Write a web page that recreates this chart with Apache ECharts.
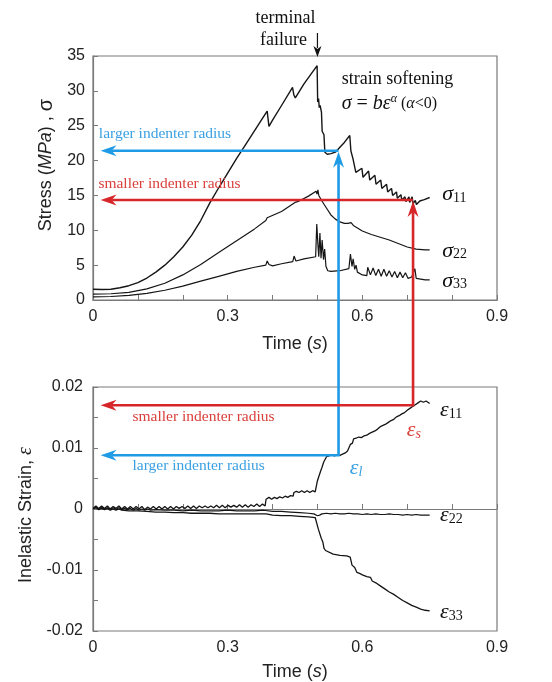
<!DOCTYPE html>
<html>
<head>
<meta charset="utf-8">
<script src="https://cdn.jsdelivr.net/npm/echarts@6/dist/echarts.min.js"></script>
<style>
html,body{margin:0;padding:0;background:#fff;}
#c{width:552px;height:682px;}
</style>
</head>
<body>
<div id="c"></div>
<script>
// ---------- data (time in s) ----------
const timeTicks = [0, 0.3, 0.6, 0.9];
const stressTicks = [0, 5, 10, 15, 20, 25, 30, 35];
const strainTicks = [-0.02, -0.01, 0, 0.01, 0.02];

const sigma11 = [
[0,1.55],[0.02,1.5],[0.04,1.55],[0.06,1.75],[0.08,2.05],[0.10,2.5],[0.12,3.15],[0.14,4.0],[0.16,5.0],[0.18,6.2],
[0.20,7.6],[0.22,9.3],[0.24,11.4],[0.26,13.9],[0.28,16.1],[0.30,18.2],[0.32,20.3],[0.34,22.3],[0.36,24.3],[0.375,25.8],
[0.388,27.1],[0.392,24.9],[0.40,25.8],[0.42,27.9],[0.4445,30.5],[0.4475,29.4],[0.4507,29.0],[0.47,31.0],[0.49,32.8],[0.4993,33.6],
[0.5005,28.4],[0.5025,28.9],[0.504,27.6],[0.506,27.9],[0.509,26.9],[0.5105,24.2],[0.513,24.0],[0.5145,23.7],[0.5165,21.2],[0.522,20.9],
[0.53,21.0],[0.54,21.2],[0.55,21.9],[0.56,22.6],[0.572,23.6],[0.5745,21.4],[0.577,21.6],[0.579,20.3],[0.582,20.5],[0.5855,18.3],
[0.599,18.9],[0.6015,17.6],[0.614,18.5],[0.6165,17.2],[0.628,17.9],[0.6305,16.6],[0.641,17.2],[0.6435,16.0],[0.654,16.6],[0.6565,15.5],
[0.665,16.0],[0.6675,15.0],[0.676,15.5],[0.678,14.6],[0.686,15.1],[0.688,14.3],[0.695,14.8],[0.697,14.1],[0.704,14.8],[0.7055,14.0],
[0.711,14.8],[0.713,13.8],[0.718,14.3],[0.7205,13.7],[0.728,14.2],[0.738,14.4],[0.75,14.7]
];
const sigma22 = [
[0,0.85],[0.04,0.9],[0.08,1.1],[0.12,1.6],[0.16,2.4],[0.20,3.6],[0.24,5.1],[0.28,6.8],[0.32,8.5],[0.36,10.2],
[0.385,11.4],[0.388,11.8],[0.391,11.6],[0.42,12.7],[0.45,14.0],[0.453,14.2],[0.456,14.1],[0.48,14.9],[0.497,15.6],[0.499,15.2],
[0.501,15.8],[0.503,15.0],[0.51,14.2],[0.52,13.2],[0.53,12.2],[0.54,11.6],[0.55,11.2],[0.56,11.0],[0.568,11.0],[0.575,11.1],
[0.58,10.7],[0.59,10.3],[0.60,9.9],[0.62,9.4],[0.64,9.0],[0.66,8.6],[0.68,8.1],[0.70,7.6],[0.72,7.3],[0.74,7.2],[0.75,7.2]
];
const sigma33 = [
[0,0.45],[0.04,0.5],[0.08,0.65],[0.12,0.95],[0.16,1.4],[0.20,2.0],[0.24,2.7],[0.28,3.4],[0.32,4.1],[0.36,4.7],
[0.385,5.0],[0.388,5.6],[0.392,5.1],[0.40,4.9],[0.42,5.2],[0.445,5.5],[0.448,6.3],[0.452,5.6],[0.47,5.9],[0.496,6.2],
[0.4985,10.9],[0.501,8.0],[0.503,6.2],[0.5055,9.6],[0.508,6.0],[0.5105,8.6],[0.5135,5.8],[0.516,7.3],[0.519,4.8],[0.523,4.2],
[0.53,4.1],[0.55,4.2],[0.57,4.5],[0.5735,6.6],[0.577,4.8],[0.5795,5.9],[0.583,4.4],[0.586,5.0],[0.589,4.0],[0.60,3.6],
[0.61,3.5],[0.612,4.7],[0.618,3.6],[0.624,4.6],[0.63,3.5],[0.636,4.4],[0.642,3.4],[0.648,4.4],[0.654,3.4],[0.66,4.2],
[0.666,3.3],[0.672,4.1],[0.678,3.2],[0.684,4.0],[0.69,3.2],[0.696,3.9],[0.702,3.1],[0.71,3.3],[0.717,4.5],[0.72,3.1],
[0.73,3.0],[0.74,2.9],[0.75,2.9]
];

const eps11 = [
[0,0.0001],[0.0064,0.0005],[0.0128,0.0001],[0.0192,0.0005],[0.0256,0.0001],[0.032,0.0005],[0.0384,0.0000],[0.0448,0.0004],[0.0512,0.0001],[0.0576,0.0005],
[0.064,0.0000],[0.0704,0.0004],[0.0768,0.0000],[0.0832,0.0004],[0.0896,0.0000],[0.096,0.0004],[0.1024,0.0000],[0.1088,0.0004],[0.1152,-0.0001],[0.1216,0.0003],
[0.128,0.0000],[0.1344,0.0004],[0.1408,0.0000],[0.1472,0.0004],[0.1536,0.0000],[0.16,0.0004],[0.1664,0.0000],[0.1728,0.0004],[0.1792,0.0000],[0.1856,0.0004],
[0.192,0.0001],[0.1984,0.0004],[0.2048,0.0001],[0.2112,0.0005],[0.2176,0.0001],[0.224,0.0005],[0.2304,0.0001],[0.2368,0.0005],[0.2432,0.0002],[0.2496,0.0005],
[0.256,0.0002],[0.2624,0.0005],[0.2688,0.0002],[0.2752,0.0006],[0.2816,0.0002],[0.288,0.0006],[0.2944,0.0002],[0.3008,0.0006],[0.3072,0.0003],[0.3136,0.0006],
[0.32,0.0003],[0.3264,0.0007],[0.3328,0.0003],[0.3392,0.0007],[0.3456,0.0003],[0.352,0.0007],[0.3584,0.0004],[0.3648,0.0008],[0.3712,0.0004],[0.3776,0.0008],
[0.3835,0.0005],[0.3855,0.0016],[0.392,0.0019],[0.398,0.0016],[0.404,0.0019],[0.41,0.0017],[0.416,0.0020],[0.422,0.0018],[0.428,0.0021],[0.434,0.0019],
[0.44,0.0022],[0.446,0.0021],[0.4475,0.0027],[0.453,0.0029],[0.459,0.0027],[0.465,0.0030],[0.471,0.0027],[0.477,0.0030],[0.483,0.0027],[0.489,0.0030],
[0.495,0.0028],[0.4985,0.0030],[0.4995,0.0045],[0.5025,0.0052],[0.505,0.0051],[0.507,0.0062],[0.51,0.0068],[0.5125,0.0069],[0.514,0.0077],[0.518,0.0080],
[0.5205,0.0086],[0.526,0.0087],[0.532,0.0089],[0.538,0.0087],[0.544,0.0089],[0.55,0.0088],[0.556,0.0090],[0.562,0.0092],[0.567,0.0095],[0.571,0.0097],
[0.5735,0.0106],[0.578,0.0108],[0.5805,0.0115],[0.586,0.0116],[0.592,0.0118],[0.598,0.0117],[0.604,0.0120],[0.61,0.0121],[0.616,0.0124],[0.622,0.0126],
[0.628,0.0128],[0.634,0.0131],[0.64,0.0135],[0.646,0.0137],[0.652,0.0139],[0.658,0.0142],[0.664,0.0145],[0.67,0.0147],[0.676,0.0151],[0.682,0.0153],
[0.688,0.0156],[0.694,0.0158],[0.70,0.0162],[0.706,0.0165],[0.712,0.0168],[0.718,0.0171],[0.724,0.0174],[0.73,0.0177],[0.736,0.0175],[0.742,0.0177],[0.75,0.0173]
];
const eps22 = [
[0,0.0001],[0.0064,0.0003],[0.0128,0.0000],[0.0192,0.0003],[0.0256,0.0000],[0.032,0.0002],[0.0384,-0.0001],[0.0448,0.0002],[0.0512,-0.0001],[0.0576,0.0002],
[0.064,-0.0001],[0.0704,0.0001],[0.0768,-0.0001],[0.0832,0.0001],[0.0896,-0.0002],[0.096,0.0001],[0.1024,-0.0002],[0.1088,0.0000],[0.1152,-0.0002],[0.1216,0.0000],
[0.128,-0.0002],[0.14,-0.0001],[0.16,-0.0002],[0.18,-0.0002],[0.2,-0.0003],[0.22,-0.0002],[0.24,-0.0003],[0.26,-0.0003],[0.28,-0.0003],[0.30,-0.0002],
[0.32,-0.0003],[0.34,-0.0003],[0.36,-0.0003],[0.38,-0.0002],[0.40,-0.0004],[0.42,-0.0004],[0.44,-0.0005],[0.46,-0.0006],[0.48,-0.0007],[0.492,-0.0008],
[0.50,-0.0011],[0.505,-0.0010],[0.51,-0.0008],[0.52,-0.0007],[0.53,-0.0008],[0.54,-0.0007],[0.55,-0.0008],[0.56,-0.0008],[0.57,-0.0007],[0.58,-0.0008],
[0.59,-0.0008],[0.60,-0.0009],[0.61,-0.0008],[0.62,-0.0009],[0.63,-0.0008],[0.64,-0.0009],[0.65,-0.0009],[0.66,-0.0008],[0.67,-0.0009],[0.68,-0.0009],
[0.69,-0.0010],[0.70,-0.0009],[0.71,-0.0010],[0.72,-0.0009],[0.73,-0.0010],[0.74,-0.0010],[0.75,-0.0010]
];
const eps33 = [
[0,0.0000],[0.0064,0.0002],[0.0128,-0.0001],[0.0192,0.0001],[0.0256,-0.0001],[0.032,0.0001],[0.0384,-0.0002],[0.0448,0.0000],[0.0512,-0.0002],[0.0576,0.0000],
[0.064,-0.0002],[0.08,-0.0003],[0.10,-0.0003],[0.12,-0.0004],[0.14,-0.0005],[0.16,-0.0005],[0.18,-0.0006],[0.20,-0.0006],[0.22,-0.0007],[0.24,-0.0007],
[0.26,-0.0007],[0.28,-0.0008],[0.30,-0.0008],[0.32,-0.0008],[0.34,-0.0008],[0.36,-0.0008],[0.38,-0.0008],[0.386,-0.0008],[0.389,-0.0010],[0.40,-0.0010],
[0.42,-0.0011],[0.44,-0.0011],[0.46,-0.0012],[0.48,-0.0013],[0.495,-0.0014],[0.499,-0.0016],[0.502,-0.0033],[0.506,-0.0036],[0.5085,-0.0048],[0.512,-0.0054],
[0.5145,-0.0064],[0.518,-0.0068],[0.522,-0.0071],[0.535,-0.0074],[0.55,-0.0076],[0.565,-0.0077],[0.573,-0.0079],[0.577,-0.0092],[0.583,-0.0096],[0.588,-0.0104],
[0.595,-0.0106],[0.60,-0.0108],[0.61,-0.0111],[0.618,-0.0112],[0.622,-0.0118],[0.63,-0.0121],[0.64,-0.0126],[0.65,-0.0131],[0.66,-0.0136],[0.67,-0.0140],
[0.68,-0.0145],[0.69,-0.0150],[0.70,-0.0154],[0.71,-0.0158],[0.72,-0.0161],[0.73,-0.0164],[0.74,-0.0166],[0.75,-0.0167]
];

// annotation anchors (data space)
const blueArrow = { t: 0.547, stress: 21.4, strain: 0.0088 };
const redArrow  = { t: 0.713, stress: 14.35, strain: 0.0170 };
const arrowTipTime = 0.017;
const failureTime = 0.5;

// ---------- chart ----------
const BLUE = '#1f9be6', RED = '#d7262a', BLUE_T = '#3aa0e2', RED_T = '#d9403c';
const SANS = '"Liberation Sans", Arial, sans-serif';
const SERIF = '"Liberation Serif", "Times New Roman", serif';
const AX = '#7a7a7a';

function fmt(v, d) { return Math.abs(v) < 1e-12 ? '0' : v.toFixed(d); }

function xAx(gi) {
  return {
    gridIndex: gi, type: 'value', min: timeTicks[0], max: timeTicks[timeTicks.length - 1], interval: 0.3,
    axisLine: { show: true, lineStyle: { color: AX, width: 1.2 } },
    axisTick: { show: true, inside: true, length: 5, lineStyle: { color: AX } },
    minorTick: { show: true, splitNumber: 3, length: 5, lineStyle: { color: AX } },
    axisLabel: { formatter: v => fmt(v, 1), fontSize: 16, fontFamily: SANS, color: '#222', margin: 9 },
    splitLine: { show: false },
    name: '{n|Time (}{i|s}{n|)}', nameLocation: 'middle', nameGap: gi === 0 ? 35 : 32,
    nameTextStyle: { rich: {
      n: { fontSize: 18, fontFamily: SANS, color: '#222' },
      i: { fontSize: 18, fontFamily: SANS, fontStyle: 'italic', color: '#222' } } }
  };
}

const option = {
  animation: false,
  backgroundColor: '#fff',
  grid: [
    { left: 93, top: 56, width: 404, height: 244, show: true, borderColor: AX, borderWidth: 1.2, backgroundColor: '#fff' },
    { left: 93, top: 387, width: 404, height: 246, show: true, borderColor: AX, borderWidth: 1.2, backgroundColor: '#fff' }
  ],
  xAxis: [xAx(0), xAx(1)],
  yAxis: [
    {
      gridIndex: 0, type: 'value', min: stressTicks[0], max: stressTicks[stressTicks.length - 1], interval: 5,
      axisLine: { show: true, lineStyle: { color: AX, width: 1.2 } },
      axisTick: { show: true, inside: true, length: 5, lineStyle: { color: AX } },
      axisLabel: { fontSize: 16, fontFamily: SANS, color: '#222', margin: 8 },
      splitLine: { show: false },
      name: '{n|Stress (}{i|MPa}{n|) , }{g|σ}', nameLocation: 'middle', nameGap: 36,
      nameTextStyle: { padding: [0, 0, 0, 26], rich: {
        n: { fontSize: 18, fontFamily: SANS, color: '#222' },
        i: { fontSize: 18, fontFamily: SANS, fontStyle: 'italic', color: '#222' },
        g: { fontSize: 20, fontFamily: SANS, color: '#222' } } }
    },
    {
      gridIndex: 1, type: 'value', min: strainTicks[0], max: strainTicks[strainTicks.length - 1], interval: 0.01,
      axisLine: { show: true, lineStyle: { color: AX, width: 1.2 } },
      axisTick: { show: true, inside: true, length: 5, lineStyle: { color: AX } },
      minorTick: { show: true, splitNumber: 2, length: 5, lineStyle: { color: AX } },
      axisLabel: { formatter: v => fmt(v, 2), fontSize: 16, fontFamily: SANS, color: '#222', margin: 10 },
      splitLine: { show: false },
      name: '{n|Inelastic Strain, }{e|ε}', nameLocation: 'middle', nameGap: 57,
      nameTextStyle: { padding: [0, 12, 0, 0], rich: {
        n: { fontSize: 18, fontFamily: SANS, color: '#222' },
        e: { fontSize: 20, fontFamily: SERIF, fontStyle: 'italic', color: '#222' } } }
    }
  ],
  series: [
    mk(sigma11, 0, 1.4), mk(sigma22, 0, 1.2), mk(sigma33, 0, 1.2),
    mk(eps11, 1, 1.3), mk(eps22, 1, 1.2), mk(eps33, 1, 1.3)
  ]
};
function mk(data, gi, w) {
  return { type: 'line', xAxisIndex: gi, yAxisIndex: gi, data: data, showSymbol: false, symbol: 'none',
    lineStyle: { color: '#151515', width: w }, z: 3, silent: true };
}

const chart = echarts.init(document.getElementById('c'), null, { renderer: 'canvas' });
chart.setOption(option);

const P0 = v => chart.convertToPixel({ gridIndex: 0 }, v);
const P1 = v => chart.convertToPixel({ gridIndex: 1 }, v);

const HL = 16, HW = 5.5, HN = 11, LW = 2.6;
function headLeft(p, c) {
  return { type: 'polygon', z: 100, shape: { points: [[p[0], p[1]], [p[0] + HL, p[1] - HW], [p[0] + HN, p[1]], [p[0] + HL, p[1] + HW]] }, style: { fill: c } };
}
function headUp(p, c) {
  return { type: 'polygon', z: 100, shape: { points: [[p[0], p[1]], [p[0] - HW, p[1] + HL], [p[0], p[1] + HN], [p[0] + HW, p[1] + HL]] }, style: { fill: c } };
}
function pline(pts, c, w) {
  return { type: 'polyline', z: 99, shape: { points: pts }, style: { stroke: c, lineWidth: w || LW, fill: null, lineJoin: 'miter' } };
}
function arrowSet(a, c) {
  const top = P0([a.t, a.stress]);
  const topTip = P0([arrowTipTime, a.stress]);
  const bot = P1([a.t, a.strain]);
  const botTip = P1([arrowTipTime, a.strain]);
  return [
    pline([[topTip[0] + HN, top[1]], [top[0], top[1]]], c),
    headLeft(topTip, c),
    pline([[botTip[0] + HN, bot[1]], [bot[0], bot[1]], [bot[0], top[1] + HN]], c),
    headLeft(botTip, c),
    headUp([top[0], top[1] + 1], c)
  ];
}
function txt(p, text, style) {
  return { type: 'text', z: 101, x: p[0], y: p[1], style: Object.assign({ text: text, verticalAlign: 'middle', align: 'left' }, style) };
}
const serif = (sz, c) => ({ font: sz + 'px ' + SERIF, fill: c });

function sym(p, main, sub, c, subItalic) {
  return { type: 'text', z: 101, x: p[0], y: p[1], style: {
    text: '{m|' + main + '}{s|' + sub + '}', verticalAlign: 'middle', align: 'left', fill: c,
    rich: {
      m: { fontFamily: SERIF, fontStyle: 'italic', fontSize: 22, fill: c, lineHeight: 24, verticalAlign: 'bottom' },
      s: { fontFamily: SERIF, fontStyle: subItalic ? 'italic' : 'normal', fontSize: 14, fill: c, lineHeight: 14, verticalAlign: 'bottom' }
    } } };
}

const fx = P0([failureTime, 35]);
const eq = P0([0.554, 28.1]);
const graphics = [].concat(
  arrowSet(blueArrow, BLUE),
  arrowSet(redArrow, RED),
  [
    txt(P0([0.013, 23.8]), 'larger indenter radius', serif(15.5, BLUE_T)),
    txt(P0([0.012, 16.6]), 'smaller indenter radius', serif(15.5, RED_T)),
    txt(P1([0.088, 0.0151]), 'smaller indenter radius', serif(15.5, RED_T)),
    txt(P1([0.088, 0.0070]), 'larger indenter radius', serif(15.5, BLUE_T)),
    txt(P0([0.554, 31.7]), 'strain softening', serif(18, '#111')),
    { type: 'text', z: 101, x: eq[0], y: eq[1],
      style: { text: '{i|σ}{m| = }{i|bε}{p|α}{r| (}{q|α}{r|<0)}', verticalAlign: 'middle', align: 'left', fill: '#111',
        rich: {
          m: { fontFamily: SERIF, fontSize: 20, fill: '#111', lineHeight: 22, verticalAlign: 'middle' },
          i: { fontFamily: SERIF, fontSize: 20, fontStyle: 'italic', fill: '#111', lineHeight: 22, verticalAlign: 'middle' },
          p: { fontFamily: SERIF, fontSize: 12, fontStyle: 'italic', fill: '#111', lineHeight: 12, verticalAlign: 'top' },
          r: { fontFamily: SERIF, fontSize: 16, fill: '#111', lineHeight: 20, verticalAlign: 'middle' },
          q: { fontFamily: SERIF, fontSize: 16, fontStyle: 'italic', fill: '#111', lineHeight: 20, verticalAlign: 'middle' }
        } } },
    txt([fx[0] - 32, fx[1] - 38], 'terminal', Object.assign(serif(18, '#111'), { align: 'center' })),
    txt([fx[0] - 34, fx[1] - 16], 'failure', Object.assign(serif(18, '#111'), { align: 'center' })),
    pline([[fx[0], fx[1] - 23], [fx[0], fx[1] - 8]], '#111', 1.2),
    { type: 'polygon', z: 100, shape: { points: [[fx[0], fx[1] + 1], [fx[0] - 4, fx[1] - 10], [fx[0], fx[1] - 7], [fx[0] + 4, fx[1] - 10]] }, style: { fill: '#111' } },
    sym(P0([0.778, 15.3]), 'σ', '11', '#111'),
    sym(P0([0.778, 7.2]), 'σ', '22', '#111'),
    sym(P0([0.778, 2.9]), 'σ', '33', '#111'),
    sym(P1([0.773, 0.0163]), 'ε', '11', '#111'),
    sym(P1([0.773, -0.0008]), 'ε', '22', '#111'),
    sym(P1([0.773, -0.0167]), 'ε', '33', '#111'),
    sym(P1([0.699, 0.0131]), 'ε', 's', RED_T, true),
    sym(P1([0.572, 0.0068]), 'ε', 'l', BLUE_T, true)
  ]
);
chart.setOption({ graphic: { elements: graphics } });
</script>
</body>
</html>
